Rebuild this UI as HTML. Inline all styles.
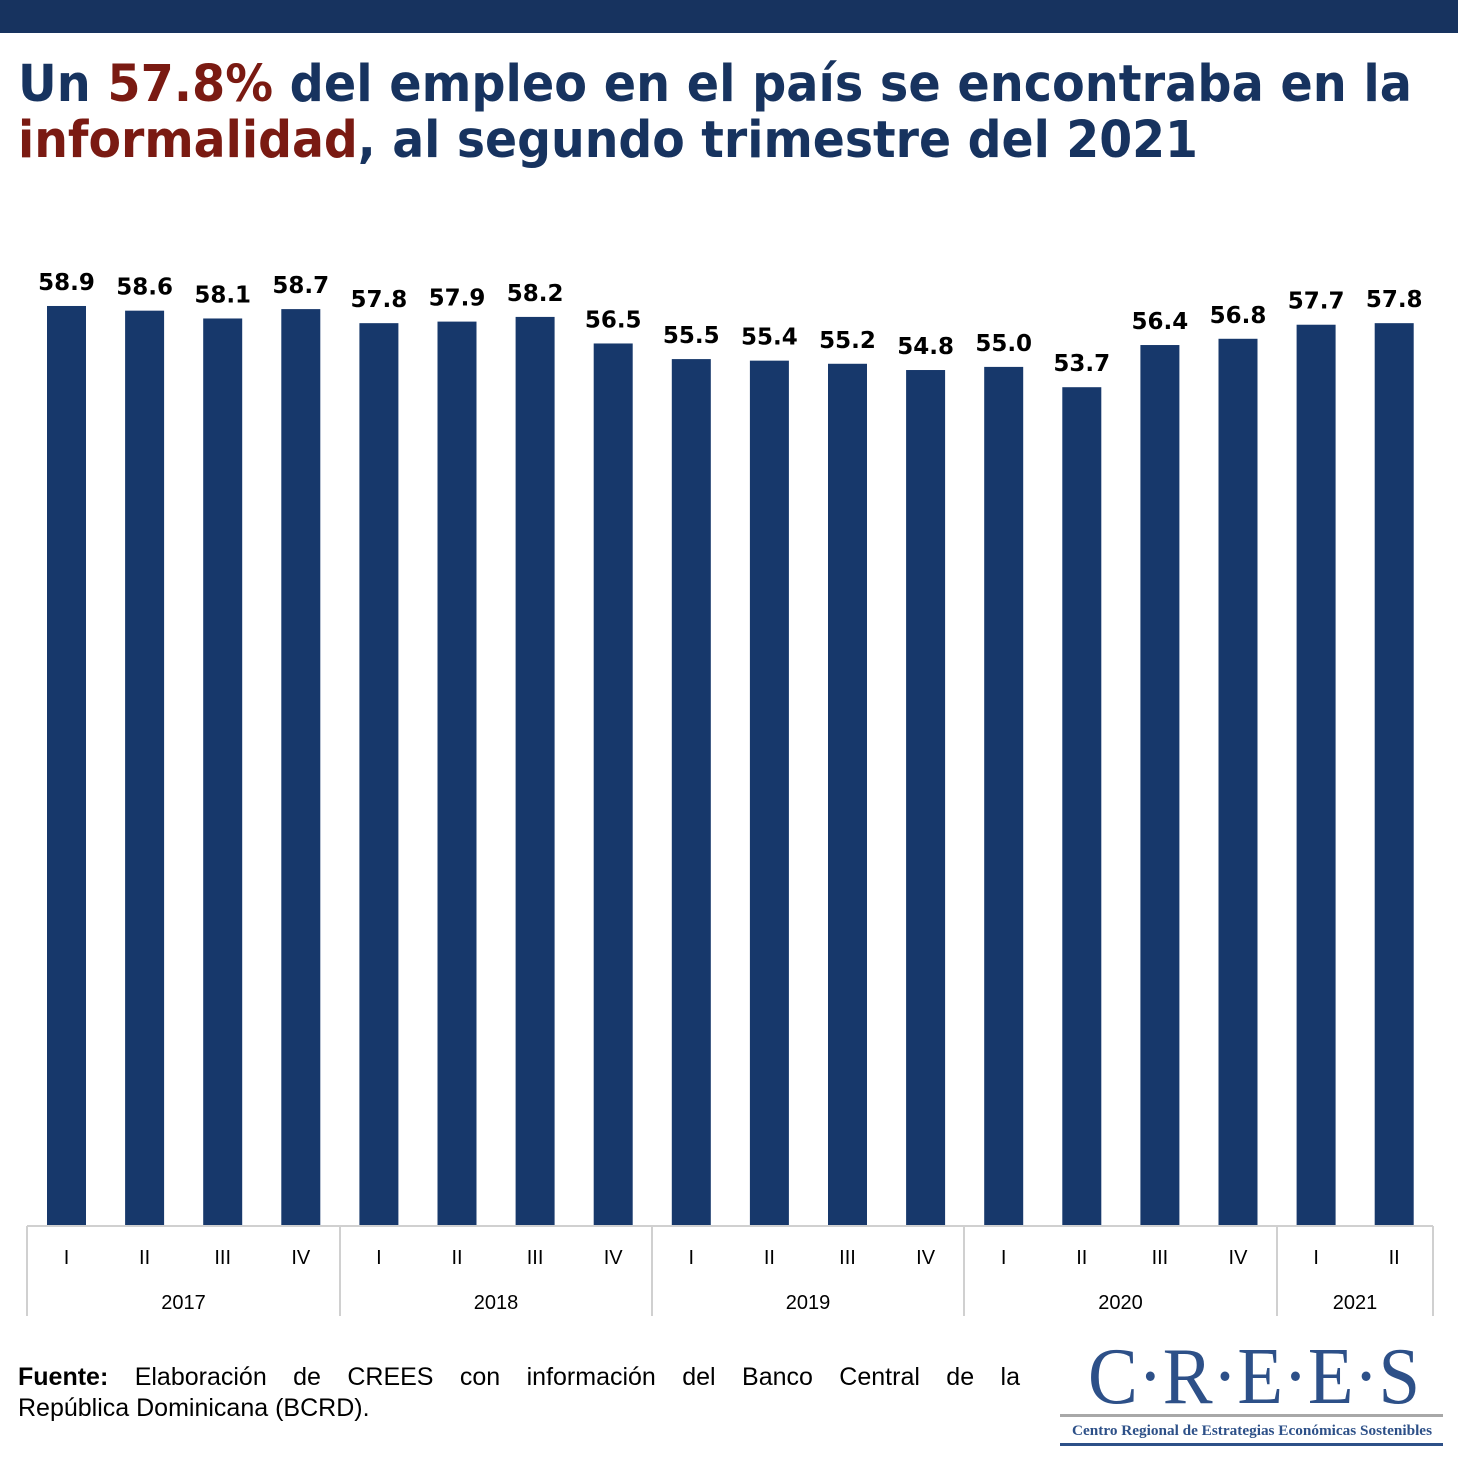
<!DOCTYPE html>
<html><head><meta charset="utf-8"><style>
html,body{margin:0;padding:0;background:#fff;}
svg{display:block;}
.foot{position:absolute;left:18px;width:1002px;font-family:"Liberation Sans",sans-serif;font-size:25px;color:#000;line-height:30px;}
</style></head><body>
<svg width="1458" height="1458" viewBox="0 0 1458 1458" xmlns="http://www.w3.org/2000/svg">
<rect x="0" y="0" width="1458" height="33" fill="#17335f"/>
<g font-family="'DejaVu Sans', Verdana, sans-serif" font-weight="bold" font-size="51">
<text x="18" y="101" textLength="1394" lengthAdjust="spacingAndGlyphs" fill="#17335f">Un <tspan fill="#7a1a12">57.8%</tspan> del empleo en el país se encontraba en la</text>
<text x="18" y="157" textLength="1180" lengthAdjust="spacingAndGlyphs" fill="#17335f"><tspan fill="#7a1a12">informalidad</tspan>, al segundo trimestre del 2021</text>
</g>
<g id="bars" fill="#17386b"></g>
<g id="labels" font-family="'DejaVu Sans', Verdana, sans-serif" font-weight="bold" font-size="23" fill="#000" text-anchor="middle"></g>
<g stroke="#d0d0d0" stroke-width="2" fill="none">
<line x1="27" y1="1226" x2="1433" y2="1226"/>
<line x1="27" y1="1226" x2="27" y2="1316"/>
<line x1="340" y1="1226" x2="340" y2="1316"/>
<line x1="652" y1="1226" x2="652" y2="1316"/>
<line x1="964" y1="1226" x2="964" y2="1316"/>
<line x1="1277" y1="1226" x2="1277" y2="1316"/>
<line x1="1433" y1="1226" x2="1433" y2="1316"/>
</g>
<g id="ticks" font-family="'Liberation Sans', sans-serif" font-size="20" fill="#000" text-anchor="middle"></g>
<g fill="#2d5088" font-family="'Liberation Serif', serif">
<text x="1254" y="1403" font-size="80" text-anchor="middle" textLength="332" lengthAdjust="spacingAndGlyphs">C·R·E·E·S</text>
<rect x="1060" y="1414" width="383" height="3" fill="#a8a8a8"/>
<text x="1252" y="1435" font-size="15" font-weight="bold" text-anchor="middle" textLength="360" lengthAdjust="spacingAndGlyphs">Centro Regional de Estrategias Económicas Sostenibles</text>
<rect x="1060" y="1443" width="383" height="3"/>
</g>
</svg>
<div class="foot" style="top:1362px;text-align:justify;text-align-last:justify;"><b>Fuente:</b> Elaboración de CREES con información del Banco Central de la</div>
<div class="foot" style="top:1393px;">República Dominicana (BCRD).</div>
<script>
var v=[58.9,58.6,58.1,58.7,57.8,57.9,58.2,56.5,55.5,55.4,55.2,54.8,55.0,53.7,56.4,56.8,57.7,57.8];
var q=["I","II","III","IV"];
var b=document.getElementById('bars'),l=document.getElementById('labels'),t=document.getElementById('ticks');
var ns="http://www.w3.org/2000/svg";
v.forEach(function(d,i){
 var cx=66.5+78.1*i, h=d*15.62, top=1226-h;
 var r=document.createElementNS(ns,'rect');
 r.setAttribute('x',cx-19.5);r.setAttribute('y',top);r.setAttribute('width',39);r.setAttribute('height',h);
 b.appendChild(r);
 var tx=document.createElementNS(ns,'text');
 tx.setAttribute('x',cx);tx.setAttribute('y',top-16);tx.textContent=d.toFixed(1);l.appendChild(tx);
 var tk=document.createElementNS(ns,'text');
 tk.setAttribute('x',cx);tk.setAttribute('y',1264);tk.textContent=q[i%4];t.appendChild(tk);
});
[["2017",183.5],["2018",496],["2019",808],["2020",1120.5],["2021",1355]].forEach(function(a){
 var tk=document.createElementNS(ns,'text');
 tk.setAttribute('x',a[1]);tk.setAttribute('y',1309);tk.textContent=a[0];t.appendChild(tk);
});
</script>
</body></html>
